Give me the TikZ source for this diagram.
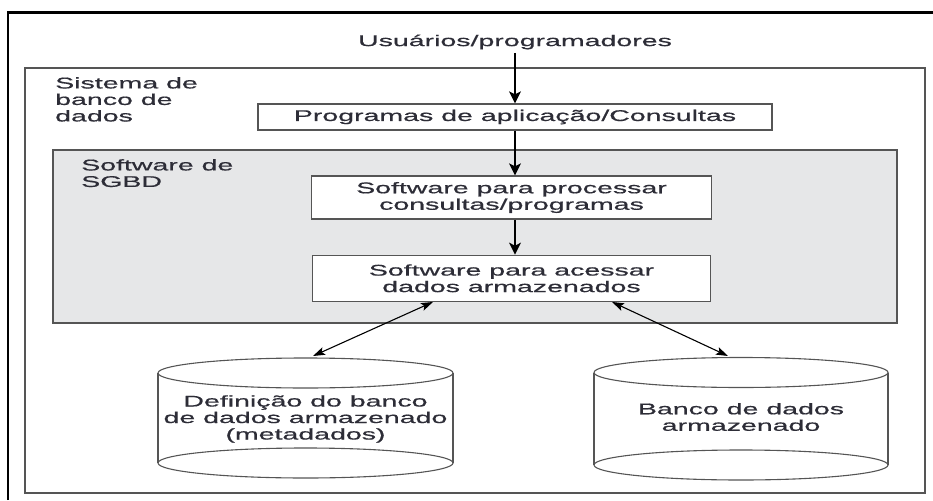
\documentclass[tikz,border=0pt]{standalone}
\usepackage{fontspec}
\setmainfont{Liberation Sans}[FakeStretch=1.84,FakeBold=0.6]
\usetikzlibrary{positioning}
\usetikzlibrary{arrows.meta}
\definecolor{sgbdgray}{RGB}{230,231,232}
\definecolor{linegray}{RGB}{85,85,85}
\definecolor{txt}{RGB}{45,45,55}

\begin{document}
\begin{tikzpicture}[x=1pt,y=-1pt,
 every node/.style={font=\fontsize{15.5}{16.5}\selectfont,text=txt},
 box/.style={draw=linegray,line width=1.3pt,fill=white,inner sep=0pt,align=center},
 seta/.style={line width=1.2pt,-{Stealth[length=12pt,width=12pt,inset=3pt]}},
 seta2/.style={line width=1.1pt,{Stealth[length=12pt,width=8pt,inset=2.5pt]}-{Stealth[length=12pt,width=8pt,inset=2.5pt]}},
 db/.style={draw=linegray,line width=1.1pt}]
 \useasboundingbox (0,0) rectangle (933,500);
 \draw[line width=2.6pt] (8,500)--(8,12.5)--(933,12.5); 
 \draw[linegray,line width=1.4pt] (25,68) rectangle (925,493); 
 \draw[linegray,line width=1.4pt,fill=sgbdgray] (53,150) rectangle (897,323); 

 \node (user) at (515,42) {Usuários/programadores};
 \node[anchor=north west,inner sep=0pt,align=left] (sis) at (55,77) {Sistema de\\banco de\\dados};
 \node[anchor=north west,inner sep=0pt,align=left] (soft) at (81,159) {Software de\\SGBD};
 \node[box,minimum width=514,minimum height=26] (app) at (515,117) {Programas de aplicação/Consultas};
 \node[box,minimum width=400,minimum height=43] (proc) at (511.5,197.5) {Software para processar\\consultas/programas};
 \node[box,minimum width=398,minimum height=46,below=35pt of proc] (acc) {Software para acessar\\dados armazenados};

 \draw[db] (158,373)--(158,463) (453,373)--(453,463); 
 \draw[db] (305.5,373) ellipse [x radius=147.5,y radius=15]; 
 \draw[db] (305.5,463) ellipse [x radius=147.5,y radius=15]; 
 \draw[db] (594,372.5)--(594,465) (888,372.5)--(888,465); 
 \draw[db] (741,372.5) ellipse [x radius=147,y radius=15]; 
 \draw[db] (741,465) ellipse [x radius=147,y radius=15]; 
 \node[align=center] (meta) at (305.5,419) {Definição do banco\\de dados armazenado\\(metadados)};
 \node[align=center] (dados) at (741,417) {Banco de dados\\armazenado};
 \coordinate (metatop) at (313,356);
 \coordinate (dadostop) at (728,356);

 \draw[seta] (user) -- (app);
 \draw[seta] (app.south) -- (app.south |- proc.north);
 \draw[seta] (proc.south -| app.south) -- (acc.north -| app.south);
 \draw[seta2] ([xshift=-78.5pt]acc.south) -- (metatop);
 \draw[seta2] ([xshift=100.5pt]acc.south) -- (dadostop);
\end{tikzpicture}
\end{document}
